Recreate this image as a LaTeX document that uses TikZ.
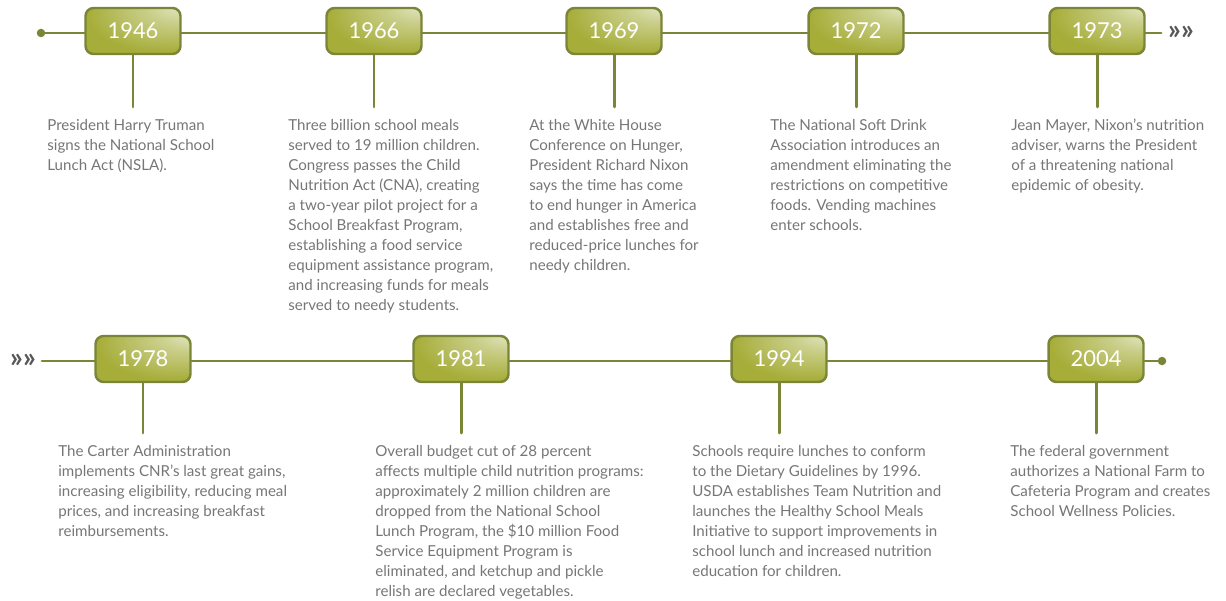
\documentclass[tikz,border=0pt]{standalone}
\usepackage{fontspec}
\setmainfont{Lato}
\usetikzlibrary{calc,positioning}

% --- Colours ---
\definecolor{olivebox}{RGB}{166,173,56}
\definecolor{olivelight}{RGB}{232,235,208}
\definecolor{oliveline}{RGB}{122,133,56}
\definecolor{notegray}{RGB}{118,118,118}
\definecolor{chevgray}{RGB}{88,88,88}

% glow in the upper right of each year box
\pgfdeclareradialshading{boxglow}{\pgfpoint{28bp}{30bp}}{%
  color(0bp)=(olivelight); color(15bp)=(olivelight!55!olivebox);
  color(40bp)=(olivebox); color(90bp)=(olivebox)}

\tikzset{
  yearbox/.style={draw=oliveline, line width=1.4pt, shading=boxglow,
    rounded corners=0.16cm, minimum width=1.9cm, minimum height=0.92cm,
    text=white, font=\fontsize{12.5}{14}\selectfont},
  timeline/.style={draw=oliveline, line width=1.7pt},
  stem/.style={draw=oliveline, line width=1.7pt},
  enddot/.style={circle, fill=oliveline, inner sep=0pt, minimum size=0.17cm},
  chevron/.style={text=chevgray, font=\bfseries\fontsize{16}{16}\selectfont, inner sep=0pt},
  note/.style={anchor=north west, align=left, text=notegray, inner xsep=0pt,
    inner ysep=0.24cm, font=\fontsize{8.6}{11.38}\selectfont}
}

\begin{document}
\begin{tikzpicture}[x=0.02cm, y=-0.02cm, line cap=round, line join=round]
\useasboundingbox (0,0) rectangle (1226,601);

% --- Upper row ---
\node[enddot] (startA) at (41,33) {};
\node[yearbox] (y1946) at (133,31) {1946};
\node[yearbox] (y1966) at (374,31) {1966};
\node[yearbox] (y1969) at (614,31) {1969};
\node[yearbox] (y1972) at (856,31) {1972};
\node[yearbox] (y1973) at (1097,31) {1973};
\coordinate (endA) at (1161,33);
\node[chevron] (moreA) at (1181,33) {»»};

\draw[timeline] (startA) -- (startA -| y1946.west);
\draw[timeline] (y1946.east |- startA) -- (y1966.west |- startA);
\draw[timeline] (y1966.east |- startA) -- (y1969.west |- startA);
\draw[timeline] (y1969.east |- startA) -- (y1972.west |- startA);
\draw[timeline] (y1972.east |- startA) -- (y1973.west |- startA);
\draw[timeline] (y1973.east |- startA) -- (endA);

\node[note] (t1946) at (47,107) {President Harry Truman\\signs the National School\\Lunch Act (NSLA).};
\node[note] (t1966) at (288,107) {Three billion school meals\\served to 19 million children.\\Congress passes the Child\\Nutrition Act (CNA), creating\\a two-year pilot project for a\\School Breakfast Program,\\establishing a food service\\equipment assistance program,\\and increasing funds for meals\\served to needy students.};
\node[note] (t1969) at (529,107) {At the White House\\Conference on Hunger,\\President Richard Nixon\\says the time has come\\to end hunger in America\\and establishes free and\\reduced-price lunches for\\needy children.};
\node[note] (t1972) at (770,107) {The National Soft Drink\\Association introduces an\\amendment eliminating the\\restrictions on competitive\\foods. Vending machines\\enter schools.};
\node[note] (t1973) at (1011,107) {Jean Mayer, Nixon’s nutrition\\adviser, warns the President\\of a threatening national\\epidemic of obesity.};

% --- Lower row ---
\node[chevron] (moreB) at (23,361) {»»};
\coordinate (startB) at (42,361);
\node[yearbox] (y1978) at (143,359) {1978};
\node[yearbox] (y1981) at (461,359) {1981};
\node[yearbox] (y1994) at (779,359) {1994};
\node[yearbox] (y2004) at (1096,359) {2004};
\node[enddot] (endB) at (1162,361) {};

\draw[timeline] (startB) -- (startB -| y1978.west);
\draw[timeline] (y1978.east |- startB) -- (y1981.west |- startB);
\draw[timeline] (y1981.east |- startB) -- (y1994.west |- startB);
\draw[timeline] (y1994.east |- startB) -- (y2004.west |- startB);
\draw[timeline] (y2004.east |- startB) -- (endB);

\node[note] (t1978) at (58,433) {The Carter Administration\\implements CNR’s last great gains,\\increasing eligibility, reducing meal\\prices, and increasing breakfast\\reimbursements.};
\node[note] (t1981) at (375,433) {Overall budget cut of 28 percent\\affects multiple child nutrition programs:\\approximately 2 million children are\\dropped from the National School\\Lunch Program, the \$10 million Food\\Service Equipment Program is\\eliminated, and ketchup and pickle\\relish are declared vegetables.};
\node[note] (t1994) at (692,433) {Schools require lunches to conform\\to the Dietary Guidelines by 1996.\\USDA establishes Team Nutrition and\\launches the Healthy School Meals\\Initiative to support improvements in\\school lunch and increased nutrition\\education for children.};
\node[note] (t2004) at (1010,433) {The federal government\\authorizes a National Farm to\\Cafeteria Program and creates\\School Wellness Policies.};

% --- Stems ---
\foreach \yr in {1946,1966,1969,1972,1973,1978,1981,1994,2004}
  \draw[stem] (y\yr.south) -- (y\yr.south |- t\yr.north);

\end{tikzpicture}
\end{document}
